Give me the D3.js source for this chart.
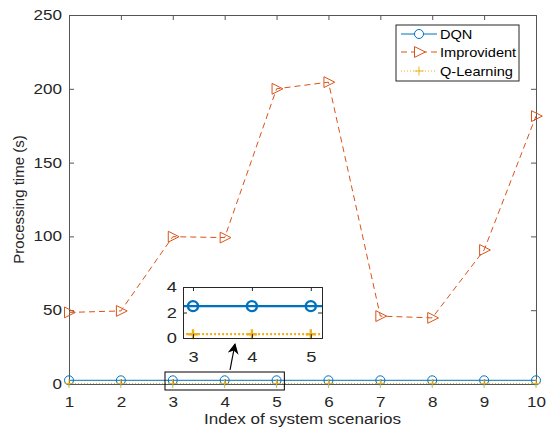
<!DOCTYPE html>
<html><head><meta charset="utf-8">
<script src="https://cdn.jsdelivr.net/npm/d3@7/dist/d3.min.js"></script>
<style>body{margin:0;background:#fff;}svg{display:block;font-family:"Liberation Sans",Arial,sans-serif;}</style>
</head><body>
<script>
const scenarios = [1,2,3,4,5,6,7,8,9,10];
const dqn = [2.5,2.5,2.5,2.5,2.5,2.5,2.5,2.5,2.5,2.5];
const improvident = [48.5,49.5,99.8,99.2,200,204.5,46,44.8,90.8,181.5];
const qlearning = [0.3,0.3,0.3,0.3,0.3,0.3,0.3,0.3,0.3,0.3];
const yTicks = [0,50,100,150,200,250];
const insetXTicks = [3,4,5];
const insetYTicks = [0,2,4];
const seriesNames = ["DQN","Improvident","Q-Learning"];
const colors = ["#0072BD","#D95319","#EDB120"];

const W=547,H=432;
const svg=d3.select("body").append("svg").attr("width",W).attr("height",H);
const L=69,R=536,T=15,B=384;
const x=d3.scaleLinear().domain([1,10]).range([L,R]);
const y=d3.scaleLinear().domain([0,250]).range([B,T]);
const axisCol="#555";
const SX=1.22;

function stretchText(g,size){
  g.selectAll("text").each(function(){
    const t=d3.select(this);
    const xv=+t.attr("x")||0;
    t.attr("x",xv/SX).attr("transform",`scale(${SX},1)`)
     .attr("fill","#262626").style("font-size",size+"px").style("font-family","'Liberation Sans',Arial,sans-serif");
  });
}

// axes
const gx=svg.append("g").attr("transform",`translate(0,${B})`)
  .call(d3.axisBottom(x).tickValues(scenarios).tickSize(-5).tickPadding(13).tickFormat(d3.format("d")));
const gy=svg.append("g").attr("transform",`translate(${L},0)`)
  .call(d3.axisLeft(y).tickValues(yTicks).tickSize(-5).tickPadding(7));
const gx2=svg.append("g").attr("transform",`translate(0,${T})`)
  .call(d3.axisTop(x).tickValues(scenarios).tickSize(-5).tickFormat(""));
const gy2=svg.append("g").attr("transform",`translate(${R},0)`)
  .call(d3.axisRight(y).tickValues(yTicks).tickSize(-5).tickFormat(""));
[gx,gy,gx2,gy2].forEach(g=>{
  g.selectAll("path.domain").attr("stroke",axisCol).attr("stroke-width",1);
  g.selectAll(".tick line").attr("stroke",axisCol);
});
stretchText(gx,14);stretchText(gy,14);

svg.append("text").attr("x",((L+R)/2)/1.1).attr("y",424).attr("transform","scale(1.1,1)").attr("text-anchor","middle")
  .style("font-size","15.5px").attr("fill","#262626").text("Index of system scenarios");
svg.append("text").attr("transform",`translate(24,${(T+B)/2}) rotate(-90)`).attr("text-anchor","middle")
  .style("font-size","15px").attr("fill","#262626").text("Processing time (s)");

function triPath(s){return `M${-s*0.5},${-s*0.6}L${s*0.7},0L${-s*0.5},${s*0.6}Z`;}

const mainG=svg.append("g");
function drawSeries(g,xs,ys,lw,ms,mw,filterIdx,withImp){
  const idx=scenarios.map((d,i)=>i).filter(filterIdx);
  const pick=a=>idx.map(i=>a[i]);
  const xsub=idx.map(i=>scenarios[i]);
  const ln=d3.line().x((d,i)=>xs(xsub[i])).y(d=>ys(d));
  g.append("path").attr("d",ln(pick(qlearning))).attr("fill","none").attr("stroke",colors[2]).attr("stroke-width",lw).attr("stroke-dasharray",lw>1.5?"2,2":"1,2");
  if(withImp){
    g.append("path").attr("d",ln(pick(improvident))).attr("fill","none").attr("stroke",colors[1]).attr("stroke-width",1).attr("stroke-dasharray","6,4");
  }
  g.append("path").attr("d",ln(pick(dqn))).attr("fill","none").attr("stroke",colors[0]).attr("stroke-width",lw);
  idx.forEach(i=>{
    g.append("circle").attr("cx",xs(scenarios[i])).attr("cy",ys(dqn[i])).attr("r",ms).attr("fill","none").attr("stroke",colors[0]).attr("stroke-width",mw);
    const px=xs(scenarios[i]),py=ys(qlearning[i]);
    g.append("path").attr("d",`M${px-ms},${py}L${px+ms},${py}M${px},${py-ms}L${px},${py+ms}`).attr("stroke",colors[2]).attr("stroke-width",mw);
    if(withImp){
      g.append("path").attr("transform",`translate(${xs(scenarios[i])},${ys(improvident[i])})`).attr("d",triPath(9)).attr("fill","none").attr("stroke",colors[1]).attr("stroke-width",1);
    }
  });
}
drawSeries(mainG,x,y,1,4.5,1,()=>true,true);

// zoom rectangle
svg.append("rect").attr("x",x(2.85)).attr("y",372).attr("width",x(5.15)-x(2.85)).attr("height",18)
  .attr("fill","none").attr("stroke","#000").attr("stroke-width",1);

// inset
const iL=183,iR=322,iT=287,iB=338;
const ix=d3.scaleLinear().domain([2.83,5.19]).range([iL,iR]);
const iy=d3.scaleLinear().domain([0,4]).range([iB,iT]);
svg.append("rect").attr("x",iL).attr("y",iT).attr("width",iR-iL).attr("height",iB-iT).attr("fill","#fff");
const insetG=svg.append("g");
insetG.append("defs").append("clipPath").attr("id","ic").append("rect").attr("x",iL).attr("y",iT-6).attr("width",iR-iL).attr("height",iB-iT+12);
const ig=insetG.append("g").attr("clip-path","url(#ic)");
drawSeries(ig,ix,iy,2.2,5,2.4,i=>scenarios[i]>=2&&scenarios[i]<=6,false);
const iax=svg.append("g").attr("transform",`translate(0,${iB})`).call(d3.axisBottom(ix).tickValues(insetXTicks).tickSize(-4).tickPadding(13).tickFormat(d3.format("d")));
const iay=svg.append("g").attr("transform",`translate(${iL},0)`).call(d3.axisLeft(iy).tickValues(insetYTicks).tickSize(-4).tickPadding(6).tickFormat(d3.format("d")));
const iax2=svg.append("g").attr("transform",`translate(0,${iT})`).call(d3.axisTop(ix).tickValues(insetXTicks).tickSize(-4).tickFormat(""));
const iay2=svg.append("g").attr("transform",`translate(${iR},0)`).call(d3.axisRight(iy).tickValues(insetYTicks).tickSize(-4).tickFormat(""));
[iax,iay,iax2,iay2].forEach(g=>{
  g.selectAll("path.domain").attr("stroke","#262626").attr("stroke-width",1);
  g.selectAll(".tick line").attr("stroke","#262626");
});
stretchText(iax,15);stretchText(iay,15);

// arrow
svg.append("defs").append("marker").attr("id","ah").attr("viewBox","0 0 10 10").attr("refX",9).attr("refY",5)
  .attr("markerWidth",11).attr("markerHeight",11).attr("orient","auto-start-reverse").attr("markerUnits","userSpaceOnUse")
  .append("path").attr("d","M0,0L10,5L0,10L3,5Z").attr("fill","#000");
svg.append("line").attr("x1",230).attr("y1",370).attr("x2",235).attr("y2",344).attr("stroke","#000").attr("stroke-width",1.2).attr("marker-end","url(#ah)");

// legend
const lg=svg.append("g");
lg.append("rect").attr("x",396).attr("y",25).attr("width",123).attr("height",56).attr("fill","#fff").attr("stroke","#262626").attr("stroke-width",1);
const ly=[34,52,71];
seriesNames.forEach((n,k)=>{
  const yy=ly[k];
  const da=k===0?null:(k===1?"6,4":"1,2");
  lg.append("line").attr("x1",401).attr("x2",437).attr("y1",yy).attr("y2",yy).attr("stroke",colors[k]).attr("stroke-width",1).attr("stroke-dasharray",da);
  const cx=419;
  if(k===0) lg.append("circle").attr("cx",cx).attr("cy",yy).attr("r",4.5).attr("fill","#fff").attr("stroke",colors[0]);
  if(k===1) lg.append("path").attr("transform",`translate(${cx},${yy})`).attr("d",triPath(9)).attr("fill","#fff").attr("stroke",colors[1]);
  if(k===2) lg.append("path").attr("d",`M${cx-4.5},${yy}L${cx+4.5},${yy}M${cx},${yy-4.5}L${cx},${yy+4.5}`).attr("stroke",colors[2]);
  lg.append("text").attr("x",440/1.08).attr("y",yy+5).attr("transform","scale(1.08,1)").style("font-size","13.5px").attr("fill","#000").text(n);
});
</script>
</body></html>
